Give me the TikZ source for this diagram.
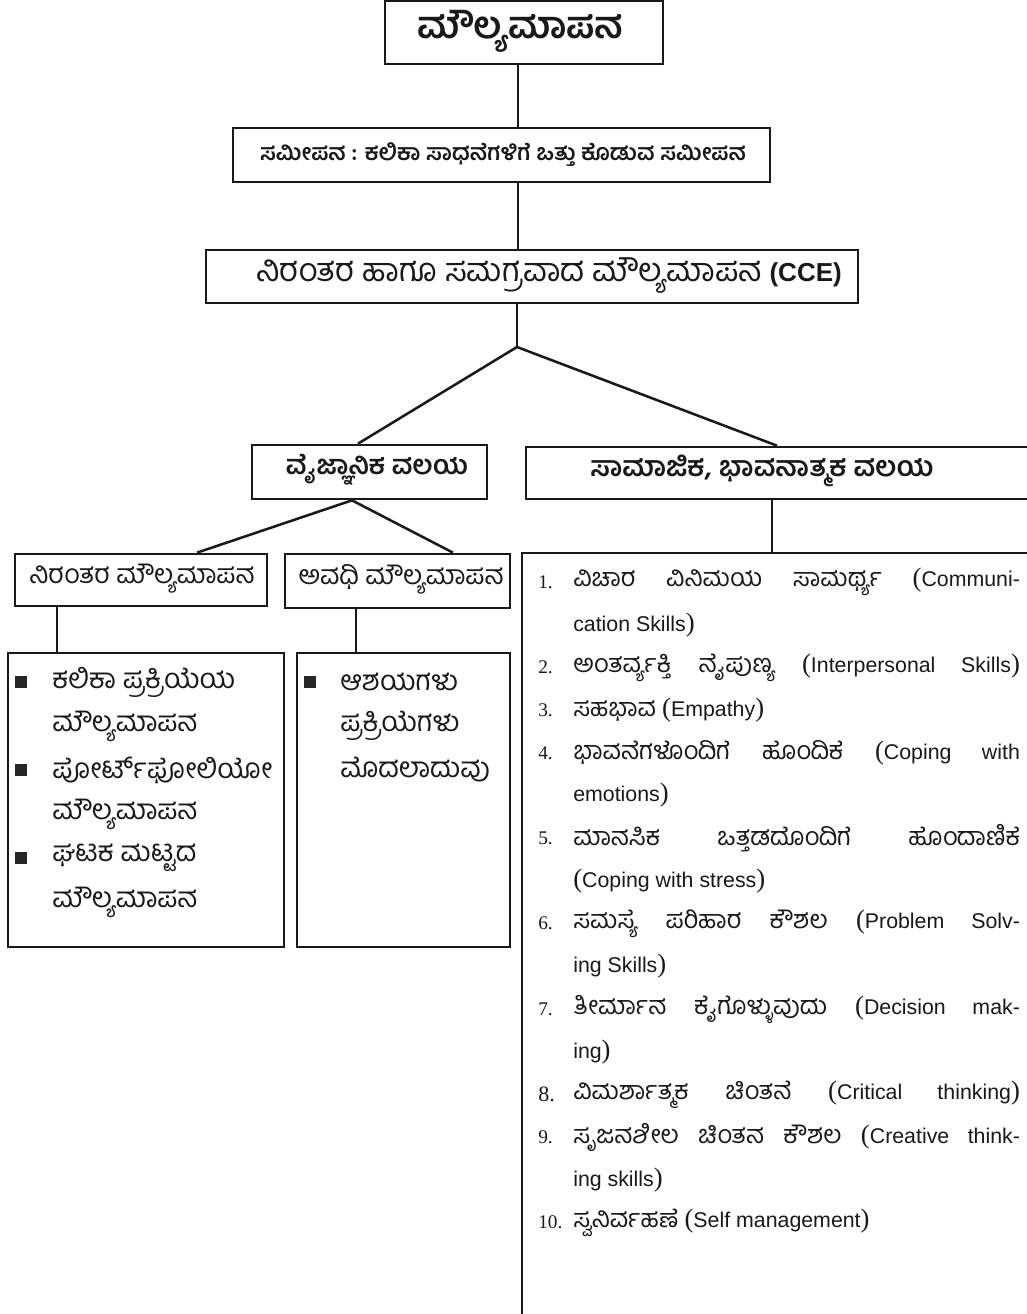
\documentclass[tikz,border=0pt]{standalone}
\usepackage{fontspec}
\setmainfont{Liberation Sans}
\newfontfamily\kn[Script=Kannada]{Hind Mysuru}
\newfontfamily\lat{Liberation Sans}
\newfontfamily\ser{Liberation Serif}
\newcommand\fs[1]{\fontsize{#1}{#1}\selectfont}
\newcommand\LP{{\ser\fs{20}(}}
\newcommand\RP{{\ser\fs{20})}}
\newcommand\la{\lat\fs{16}}
\begin{document}
\begin{tikzpicture}[x=0.75pt,y=-0.75pt,
  box/.style={draw=black!90, line width=2pt, inner sep=0pt, rectangle},
  con/.style={draw=black!90, line width=1.9pt},
  hd/.style={inner sep=0pt, text=black!90},
  num/.style={inner sep=0pt, anchor=west, text=black!90, font=\ser\fs{14.5}},
  itm/.style={inner sep=0pt, anchor=west, text=black!90, font=\kn\fs{19}},
  bit/.style={inner sep=0pt, anchor=west, text=black!90, font=\kn\fs{21}},
  sq/.style={fill=black!85, minimum size=8.5pt, inner sep=0pt}]
\useasboundingbox (0,0) rectangle (1026,1314);
\fill[white] (0,0) rectangle (1026,1314);

% boxes
\node[box, minimum width=208.5pt, minimum height=47.25pt] (A) at (524,32.5) {};
\node[box, minimum width=402.75pt, minimum height=40.5pt] (B) at (501.5,155) {};
\node[box, minimum width=489pt, minimum height=39.75pt] (C) at (532,276.5) {};
\node[box, minimum width=176.25pt, minimum height=40.5pt] (D) at (369.5,472) {};
\node[box, minimum width=379.5pt, minimum height=39pt] (E) at (779,473) {};
\node[box, minimum width=189pt, minimum height=39pt] (F) at (141,580) {};
\node[box, minimum width=168.75pt, minimum height=40.5pt] (G) at (397.5,581) {};
\node[box, minimum width=207pt, minimum height=220.5pt] (H) at (146,800) {};
\node[box, minimum width=159.75pt, minimum height=220.5pt] (I) at (403.5,800) {};
\node[box, minimum width=388.5pt, minimum height=582.75pt] (J) at (781,941.5) {};

% box titles
\node[hd] (At) at (520,31) {\kn\bfseries\fs{28}ಮೌಲ್ಯಮಾಪನ};
\node[hd] (Bt) at (503,155) {\kn\bfseries\fs{17}ಸಮೀಪನ : ಕಲಿಕಾ ಸಾಧನೆಗಳಿಗೆ ಒತ್ತು ಕೊಡುವ ಸಮೀಪನ};
\node[hd] (Ct) at (549,276) {\kn\fs{24.5}ನಿರಂತರ ಹಾಗೂ ಸಮಗ್ರವಾದ ಮೌಲ್ಯಮಾಪನ {\lat\bfseries\fs{19.5}(CCE)}};
\node[hd] (Dt) at (377,470) {\kn\bfseries\fs{20}ವೈಜ್ಞಾನಿಕ ವಲಯ};
\node[hd] (Et) at (762,471) {\kn\bfseries\fs{21}ಸಾಮಾಜಿಕ, ಭಾವನಾತ್ಮಕ ವಲಯ};
\node[hd] (Ft) at (142,579) {\kn\fs{20}ನಿರಂತರ ಮೌಲ್ಯಮಾಪನ};
\node[hd] (Gt) at (401,579) {\kn\fs{20}ಅವಧಿ ಮೌಲ್ಯಮಾಪನ};

% connectors
\coordinate (trunk) at (518,0);
\coordinate (apex) at (517,347);
\coordinate (dl) at (358,0);
\coordinate (er) at (777,0);
\coordinate (dfork) at (352,499);
\coordinate (fl) at (197,0);
\coordinate (gl) at (453,0);
\coordinate (hl) at (57,0);
\coordinate (il) at (356,0);
\coordinate (jl) at (772,0);
\draw[con] (A.south -| trunk) -- (B.north -| trunk);
\draw[con] (B.south -| trunk) -- (C.north -| trunk);
\draw[con] (C.south -| apex) -- (apex);
\draw[con] (apex) -- (D.north -| dl);
\draw[con] (apex) -- (E.north -| er);
\draw[con] (D.south -| dfork) -- (F.north -| fl);
\draw[con] (D.south -| dfork) -- (G.north -| gl);
\draw[con] (F.south -| hl) -- (H.north -| hl);
\draw[con] (G.south -| il) -- (I.north -| il);
\draw[con] (E.south -| jl) -- (J.north -| jl);

% left bullet box
\node[sq] (b1) at (21,682) {};
\node[sq] (b2) at (21,770) {};
\node[sq] (b3) at (21,858) {};
\node[bit] (h1) at (52,682) {ಕಲಿಕಾ ಪ್ರಕ್ರಿಯೆಯ};
\node[bit] (h2) at (52,726) {ಮೌಲ್ಯಮಾಪನ};
\node[bit] (h3) at (52,770) {ಪೋರ್ಟ್‌ಫೋಲಿಯೋ};
\node[bit] (h4) at (52,814) {ಮೌಲ್ಯಮಾಪನ};
\node[bit] (h5) at (52,858) {ಘಟಕ ಮಟ್ಟದ};
\node[bit] (h6) at (52,902) {ಮೌಲ್ಯಮಾಪನ};

% middle bullet box
\node[sq] (b4) at (310,682) {};
\node[bit] (i1) at (340,682) {ಆಶಯಗಳು};
\node[bit] (i2) at (340,726) {ಪ್ರಕ್ರಿಯೆಗಳು};
\node[bit] (i3) at (340,770) {ಮೊದಲಾದುವು};

% right list
\node[num] (n1) at (538,582) {1.};
\node[itm] (t1) at (573,582) {\makebox[335pt][s]{ವಿಚಾರ ವಿನಿಮಯ ಸಾಮರ್ಥ್ಯ \LP{\la Communi-}}};
\node[itm] (t1b) at (573,624.7) {\la cation Skills\RP};
\node[num] (n2) at (538,667.4) {2.};
\node[itm] (t2) at (573,667.4) {\makebox[335pt][s]{ಅಂತರ್ವ್ಯಕ್ತಿ ನೈಪುಣ್ಯ \LP{\la Interpersonal Skills}\RP}};
\node[num] (n3) at (538,710.1) {3.};
\node[itm] (t3) at (573,710.1) {ಸಹಭಾವ \LP{\la Empathy}\RP};
\node[num] (n4) at (538,752.8) {4.};
\node[itm] (t4) at (573,752.8) {\makebox[335pt][s]{ಭಾವನೆಗಳೊಂದಿಗೆ ಹೊಂದಿಕೆ \LP{\la Coping with}}};
\node[itm] (t4b) at (573,795.5) {\la emotions\RP};
\node[num] (n5) at (538,838.2) {5.};
\node[itm] (t5) at (573,838.2) {\makebox[335pt][s]{ಮಾನಸಿಕ ಒತ್ತಡದೊಂದಿಗೆ ಹೊಂದಾಣಿಕೆ}};
\node[itm] (t5b) at (573,880.9) {\LP{\la Coping with stress}\RP};
\node[num] (n6) at (538,923.6) {6.};
\node[itm] (t6) at (573,923.6) {\makebox[335pt][s]{ಸಮಸ್ಯೆ ಪರಿಹಾರ ಕೌಶಲ \LP{\la Problem Solv-}}};
\node[itm] (t6b) at (573,966.3) {\la ing Skills\RP};
\node[num] (n7) at (538,1009) {7.};
\node[itm] (t7) at (573,1009) {\makebox[335pt][s]{ತೀರ್ಮಾನ ಕೈಗೊಳ್ಳುವುದು \LP{\la Decision mak-}}};
\node[itm] (t7b) at (573,1051.7) {\la ing\RP};
\node[num, font=\ser\fs{16.5}] (n8) at (538,1094.4) {8.};
\node[itm] (t8) at (573,1094.4) {\makebox[335pt][s]{ವಿಮರ್ಶಾತ್ಮಕ ಚಿಂತನೆ \LP{\la Critical thinking}\RP}};
\node[num] (n9) at (538,1137.1) {9.};
\node[itm] (t9) at (573,1137.1) {\makebox[335pt][s]{ಸೃಜನಶೀಲ ಚಿಂತನ ಕೌಶಲ \LP{\la Creative think-}}};
\node[itm] (t9b) at (573,1179.8) {\la ing skills\RP};
\node[num] (n10) at (538,1222.5) {10.};
\node[itm] (t10) at (573,1222.5) {ಸ್ವನಿರ್ವಹಣೆ \LP{\la Self management}\RP};
\end{tikzpicture}
\end{document}
